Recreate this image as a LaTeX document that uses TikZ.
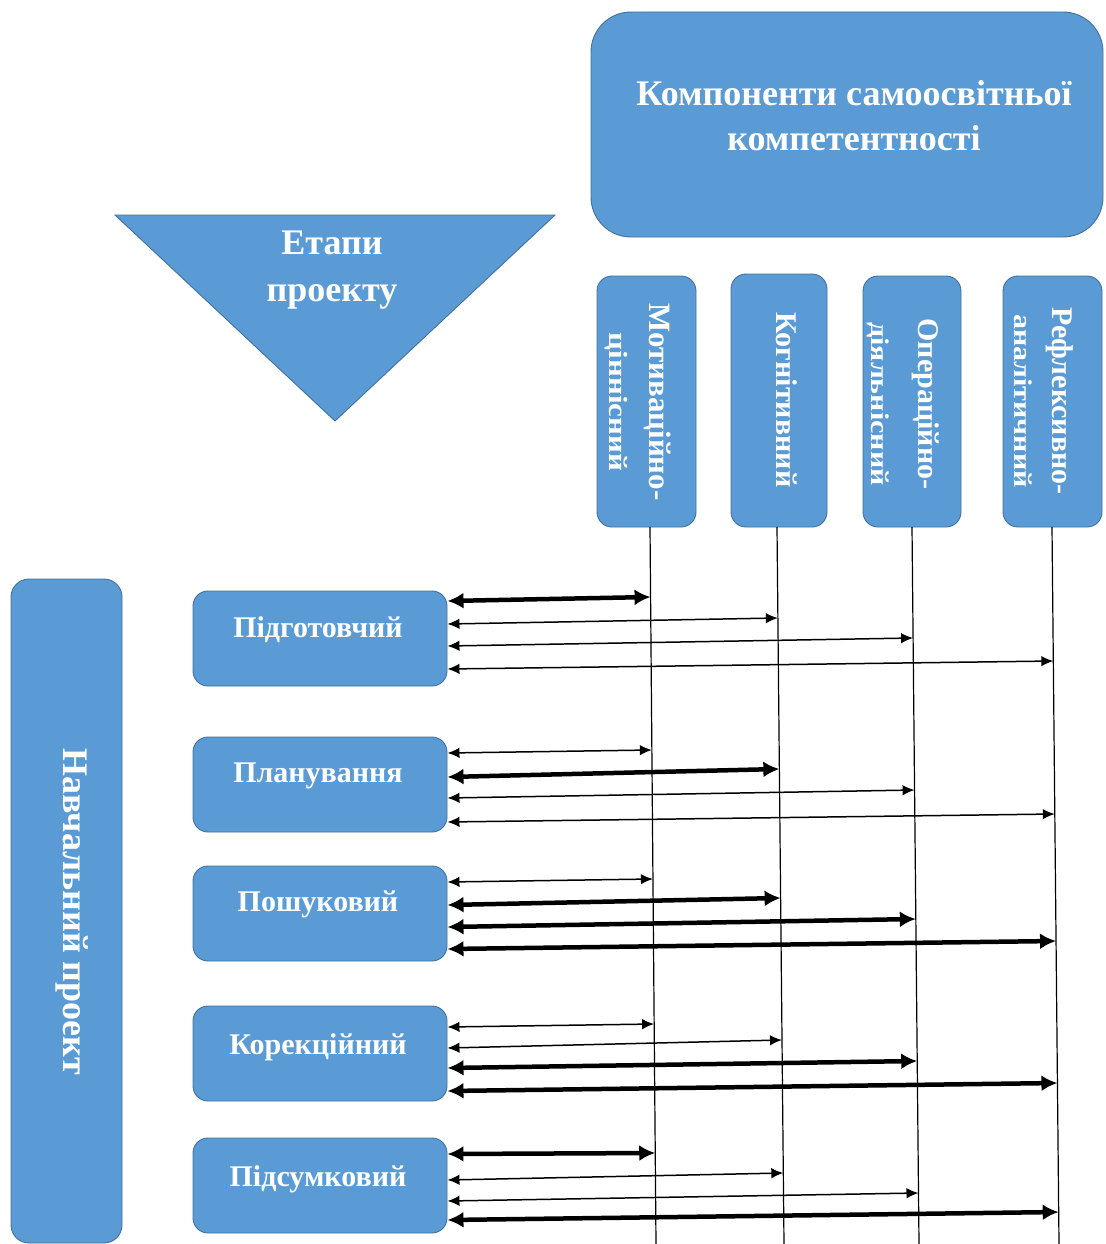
\documentclass[tikz,border=0pt]{standalone}
\usepackage{fontspec}
\setmainfont{Liberation Serif}
\usetikzlibrary{arrows.meta,calc}
\definecolor{boxblue}{HTML}{5B9BD5}
\definecolor{boxedge}{HTML}{41719C}
\newcommand\fsz[2]{\fontsize{#1}{#2}\selectfont\bfseries}
\newcommand\conn[5]{\pgfmathsetmacro\myfr{(#5-527)/717}\draw[#1] (#2.east |- 0,#3) -- ($(v#4t)!\myfr!(v#4b)$);}
\begin{document}
\begin{tikzpicture}[x=1pt,y=-1pt,
 bluebox/.style={draw=boxedge, line width=0.9pt, fill=boxblue, inner sep=0pt},
 wtext/.style={text=white, inner sep=0pt, align=center},
 vline/.style={line width=1.2pt, black},
 thinarr/.style={{Latex[length=12pt,width=10.5pt]}-{Latex[length=12pt,width=10.5pt]}, line width=1.5pt},
 thickarr/.style={{Latex[length=16pt,width=16pt]}-{Latex[length=16pt,width=16pt]}, line width=4.5pt},
]
\useasboundingbox (0,0) rectangle (1105,1244);

% top box
\node[bluebox, rounded corners=40pt, minimum width=512pt, minimum height=225pt] (top) at (847,124.5) {};
\node[wtext, font=\fsz{36}{45}] (toptxt) at (854,116) {Компоненти самоосвітньої\\компетентності};

% triangle
\coordinate (trA) at (115,215);
\coordinate (trB) at (555,215);
\coordinate (trC) at (335,421);
\draw[draw=boxedge, line width=0.9pt, fill=boxblue] (trA) -- (trB) -- (trC) -- cycle;
\node[wtext, font=\fsz{36}{47}] (tritxt) at (332,270.5) {Етапи\\проекту};

% component boxes
\node[bluebox, rounded corners=15pt, minimum width=99pt, minimum height=251pt] (c1) at (646.5,401.5) {};
\node[bluebox, rounded corners=15pt, minimum width=96pt, minimum height=253pt] (c2) at (779,400.5) {};
\node[bluebox, rounded corners=15pt, minimum width=98pt, minimum height=251pt] (c3) at (912,401.5) {};
\node[bluebox, rounded corners=15pt, minimum width=99pt, minimum height=251pt] (c4) at (1052.5,401.5) {};
\node[wtext, rotate=-90, font=\fsz{31}{40}] (c1txt) at (638,402) {Мотиваційно-\\\scalebox{1}[0.85]{ціннісний}};
\node[wtext, rotate=-90, font=\fsz{30}{40}] (c2txt) at (787,400) {Когнітивний};
\node[wtext, rotate=-90, font=\fsz{30}{47}] (c3txt) at (903.5,404) {Операційно-\\\scalebox{1}[0.85]{діяльнісний}};
\node[wtext, rotate=-90, font=\fsz{30}{38}] (c4txt) at (1044,401) {Рефлексивно-\\\scalebox{1}[0.85]{аналітичний}};

% left box
\node[bluebox, rounded corners=18pt, minimum width=111pt, minimum height=664pt] (proj) at (66.5,911) {};
\node[wtext, rotate=-90, font=\fsz{36}{40}] (projtxt) at (72,912) {Навчальний проект};

% stage boxes
\foreach \n/\y in {s1/638.5, s2/784.5, s3/913.5, s4/1053.5, s5/1185.5}
  \node[bluebox, rounded corners=15pt, minimum width=254pt, minimum height=95pt] (\n) at (320,\y) {};
\node[wtext, font=\fsz{30}{36}] (s1txt) at (318,630) {Підготовчий};
\node[wtext, font=\fsz{30}{36}] (s2txt) at (318,776) {Планування};
\node[wtext, font=\fsz{30}{36}] (s3txt) at (318,904) {Пошуковий};
\node[wtext, font=\fsz{30}{36}] (s4txt) at (318,1047) {Корекційний};
\node[wtext, font=\fsz{30}{36}] (s5txt) at (318,1179) {Підсумковий};

% vertical lines
\coordinate (v1t) at (650,527);  \coordinate (v1b) at (656,1244);
\coordinate (v2t) at (777,527);  \coordinate (v2b) at (784,1244);
\coordinate (v3t) at (912,527);  \coordinate (v3b) at (919,1244);
\coordinate (v4t) at (1052,527); \coordinate (v4b) at (1059,1244);
\foreach \i in {1,2,3,4} \draw[vline] (v\i t) -- (v\i b);

% connectors
\conn{thickarr}{s1}{601}{1}{597}
\conn{thinarr}{s1}{624}{2}{618}
\conn{thinarr}{s1}{646}{3}{638}
\conn{thinarr}{s1}{669}{4}{661}

\conn{thinarr}{s2}{753}{1}{750}
\conn{thickarr}{s2}{777}{2}{769}
\conn{thinarr}{s2}{798}{3}{790}
\conn{thinarr}{s2}{822}{4}{814}

\conn{thinarr}{s3}{882}{1}{879}
\conn{thickarr}{s3}{905}{2}{898}
\conn{thickarr}{s3}{927}{3}{919}
\conn{thickarr}{s3}{949}{4}{941}

\conn{thinarr}{s4}{1027}{1}{1024}
\conn{thinarr}{s4}{1048}{2}{1040}
\conn{thickarr}{s4}{1068}{3}{1061}
\conn{thickarr}{s4}{1091}{4}{1083}

\conn{thickarr}{s5}{1154}{1}{1153}
\conn{thinarr}{s5}{1180}{2}{1173}
\conn{thinarr}{s5}{1201}{3}{1193}
\conn{thickarr}{s5}{1220}{4}{1212}
\end{tikzpicture}
\end{document}
